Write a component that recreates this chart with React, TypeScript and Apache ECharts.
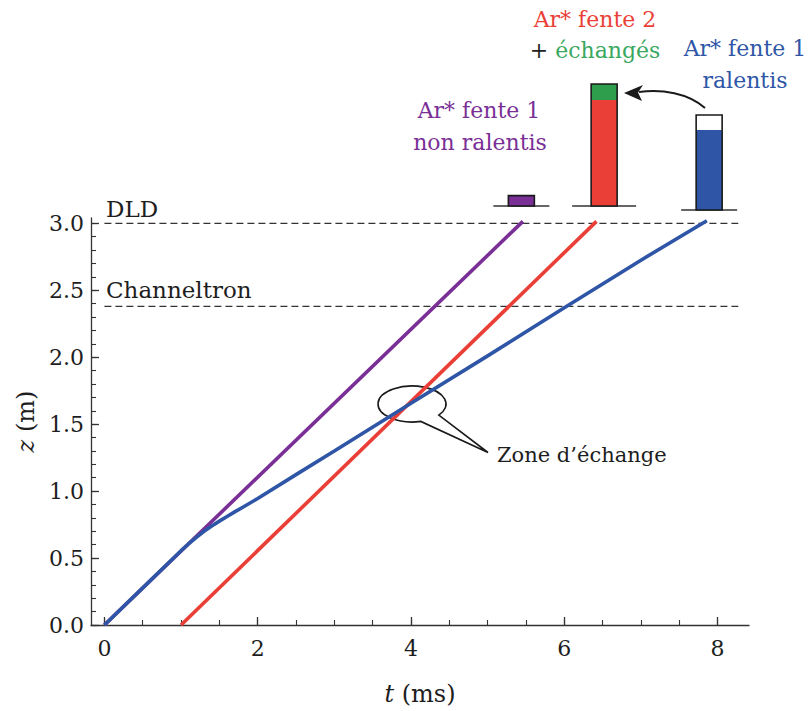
import React, { useEffect, useRef } from "react";
import * as echarts from "echarts";

// ---- data ----
const xMajorTicks = [0, 2, 4, 6, 8];
const xMinorTicks = [0, 0.5, 1, 1.5, 2, 2.5, 3, 3.5, 4, 4.5, 5, 5.5, 6, 6.5, 7, 7.5, 8];
const yMajorTicks = [0, 0.5, 1, 1.5, 2, 2.5, 3];
const yMinorTicks = [
  0, 0.1, 0.2, 0.3, 0.4, 0.5, 0.6, 0.7, 0.8, 0.9, 1, 1.1, 1.2, 1.3, 1.4, 1.5,
  1.6, 1.7, 1.8, 1.9, 2, 2.1, 2.2, 2.3, 2.4, 2.5, 2.6, 2.7, 2.8, 2.9, 3,
];

const purpleT = [0, 5.46];
const purpleZ = [0, 3.015];
const redT = [1.0, 6.42];
const redZ = [0, 3.015];
const blueT = [0, 0.5, 1.0, 1.1, 1.2, 1.3, 1.4, 1.5, 1.6, 1.7, 1.8, 2.0, 2.5, 3.0, 4.0, 5.0, 6.0, 7.0, 7.86];
const blueZ = [0, 0.277, 0.555, 0.607, 0.655, 0.7, 0.74, 0.776, 0.81, 0.845, 0.878, 0.945, 1.123, 1.3, 1.656, 2.01, 2.37, 2.725, 3.02];

const dldT = [0, 8.27];
const dldZ = [3.0, 3.0];
const chanT = [0, 8.27];
const chanZ = [2.38, 2.38];

// detector histogram (arbitrary units)
const barT = [5.44, 6.52, 7.89];
const barBase = [2, 2, 0];
const barLevel = [7.2, 55, 40];
const barTop = [7.2, 63, 47.5];

// ---- styles ----
const FONT = "DejaVu Serif";
const C_PURPLE = "#7a2f96";
const C_RED = "#ea3f37";
const C_BLUE = "#2f56a6";
const C_GREEN = "#2f9e4c";
const C_TEXT = "#1e1e1e";
const barFill = [C_PURPLE, C_RED, C_BLUE];
const barExtraFill = [C_PURPLE, C_GREEN, "#ffffff"];
const barFootHalf = [28, 32, 28];

const pairs = (a: number[], b: number[]) => a.map((v, i) => [v, b[i]]);

let registered = false;
function registerShapes() {
  if (registered) return;
  registered = true;
  const d = "M 438.8 415.1 A 34 18 0 1 0 420.8 421.4 L 488 452.5 Z";
  echarts.graphic.registerShape("callout", echarts.graphic.extendPath(d, {}) as any);
}

export default function App() {
  const ref = useRef<HTMLDivElement>(null);
  useEffect(() => {
    if (!ref.current) return;
    registerShapes();
    const chart = echarts.init(ref.current, undefined, { renderer: "svg" });
    const axisLabelStyle = { fontFamily: FONT, fontSize: 22, color: C_TEXT };
    const XMIN = -0.175;
    const XMAX = 8.41;
    const YMAX = 3.04;
    const f = (s: number) => `${s}px '${FONT}'`;
    const option: any = {
      animation: false,
      backgroundColor: "#ffffff",
      grid: [
        { left: 91, right: 60, top: 218, bottom: 86 },
        { left: 91, right: 60, top: 0, height: 210 },
      ],
      xAxis: [
        {
          type: "value",
          gridIndex: 0,
          position: "bottom",
          min: XMIN,
          max: XMAX,
          name: "{i|t} (ms)",
          nameLocation: "middle",
          nameGap: 57,
          nameTextStyle: {
            fontFamily: FONT,
            fontSize: 24,
            color: C_TEXT,
            rich: { i: { fontFamily: FONT, fontSize: 24, fontStyle: "italic", color: C_TEXT } },
          },
          axisLine: { onZero: false, lineStyle: { color: "#333", width: 1.3 } },
          axisTick: { inside: true, length: 8, customValues: xMajorTicks, lineStyle: { color: "#333", width: 1.3 } },
          axisLabel: { ...axisLabelStyle, margin: 12, customValues: xMajorTicks, formatter: (v: number) => String(v) },
          splitLine: { show: false },
        },
        {
          type: "value",
          gridIndex: 0,
          position: "bottom",
          min: XMIN,
          max: XMAX,
          axisLine: { show: false, onZero: false },
          axisTick: { inside: true, length: 5, customValues: xMinorTicks, lineStyle: { color: "#333", width: 1.1 } },
          axisLabel: { show: false },
          splitLine: { show: false },
        },
        {
          type: "value",
          gridIndex: 1,
          min: XMIN,
          max: XMAX,
          show: false,
        },
      ],
      yAxis: [
        {
          type: "value",
          gridIndex: 0,
          position: "left",
          min: 0,
          max: YMAX,
          name: "{i|z} (m)",
          nameLocation: "middle",
          nameGap: 53,
          nameRotate: 90,
          nameTextStyle: {
            fontFamily: FONT,
            fontSize: 24,
            color: C_TEXT,
            rich: { i: { fontFamily: FONT, fontSize: 24, fontStyle: "italic", color: C_TEXT } },
          },
          axisLine: { show: true, onZero: false, lineStyle: { color: "#333", width: 1.3 } },
          axisTick: { show: true, inside: true, length: 8, customValues: yMajorTicks, lineStyle: { color: "#333", width: 1.3 } },
          axisLabel: { ...axisLabelStyle, margin: 7, customValues: yMajorTicks, formatter: (v: number) => v.toFixed(1) },
          splitLine: { show: false },
        },
        {
          type: "value",
          gridIndex: 0,
          position: "left",
          min: 0,
          max: YMAX,
          axisLine: { show: false, onZero: false },
          axisTick: { show: true, inside: true, length: 5, customValues: yMinorTicks, lineStyle: { color: "#333", width: 1.1 } },
          axisLabel: { show: false },
          splitLine: { show: false },
        },
        {
          type: "value",
          gridIndex: 1,
          min: 0,
          max: 105,
          show: false,
        },
      ],
      series: [
        {
          type: "line",
          name: "DLD",
          xAxisIndex: 0,
          yAxisIndex: 0,
          data: pairs(dldT, dldZ),
          showSymbol: false,
          lineStyle: { color: "#333", width: 1.3, type: [7, 4] },
          silent: true,
          z: 1,
        },
        {
          type: "line",
          name: "Channeltron",
          xAxisIndex: 0,
          yAxisIndex: 0,
          data: pairs(chanT, chanZ),
          showSymbol: false,
          lineStyle: { color: "#333", width: 1.3, type: [7, 4] },
          silent: true,
          z: 1,
        },
        {
          type: "line",
          name: "purple",
          xAxisIndex: 0,
          yAxisIndex: 0,
          data: pairs(purpleT, purpleZ),
          showSymbol: false,
          lineStyle: { color: C_PURPLE, width: 3.6 },
          z: 2,
        },
        {
          type: "line",
          name: "red",
          xAxisIndex: 0,
          yAxisIndex: 0,
          data: pairs(redT, redZ),
          showSymbol: false,
          lineStyle: { color: C_RED, width: 3.6 },
          z: 3,
        },
        {
          type: "line",
          name: "blue",
          xAxisIndex: 0,
          yAxisIndex: 0,
          data: pairs(blueT, blueZ),
          showSymbol: false,
          smooth: false,
          lineStyle: { color: C_BLUE, width: 3.6, join: "round" },
          z: 4,
        },
        {
          type: "custom",
          name: "detecteur",
          xAxisIndex: 2,
          yAxisIndex: 2,
          data: barT.map((t, i) => [t, barBase[i], barLevel[i], barTop[i]]),
          encode: { x: 0, y: [1, 2, 3] },
          renderItem: (params: any, api: any) => {
            const i = params.dataIndex;
            const t = api.value(0);
            const b = api.value(1);
            const m = api.value(2);
            const tp = api.value(3);
            const pb = api.coord([t, b]);
            const pm = api.coord([t, m]);
            const pt = api.coord([t, tp]);
            const w = 26;
            const x = pb[0] - w / 2;
            const children: any[] = [
              {
                type: "line",
                shape: { x1: pb[0] - barFootHalf[i], y1: pb[1], x2: pb[0] + barFootHalf[i], y2: pb[1] },
                style: { stroke: "#333", lineWidth: 1.3 },
              },
              { type: "rect", shape: { x, y: pm[1], width: w, height: pb[1] - pm[1] }, style: { fill: barFill[i] } },
            ];
            if (tp > m) {
              children.push({
                type: "rect",
                shape: { x, y: pt[1], width: w, height: pm[1] - pt[1] },
                style: { fill: barExtraFill[i] },
              });
            }
            children.push({
              type: "rect",
              shape: { x, y: pt[1], width: w, height: pb[1] - pt[1] },
              style: { fill: "none", stroke: "#1a1a1a", lineWidth: 1.6 },
            });
            return { type: "group", children };
          },
        },
      ],
      graphic: [
        { type: "text", x: 106, y: 209, style: { text: "DLD", font: f(23), fill: C_TEXT, align: "left", verticalAlign: "middle" } },
        { type: "text", x: 106, y: 290, style: { text: "Channeltron", font: f(23), fill: C_TEXT, align: "left", verticalAlign: "middle" } },
        { type: "text", x: 497, y: 455, style: { text: "Zone d’échange", font: f(21), fill: C_TEXT, align: "left", verticalAlign: "middle" } },
        { type: "text", x: 595, y: 19, style: { text: "Ar* fente 2", font: f(22), fill: C_RED, align: "center", verticalAlign: "middle" } },
        {
          type: "text",
          x: 595,
          y: 50,
          style: {
            text: "{a|+} {b|échangés}",
            font: f(22),
            align: "center",
            verticalAlign: "middle",
            rich: {
              a: { fill: C_TEXT, font: f(22) },
              b: { fill: "#3aa85e", font: f(22) },
            },
          },
        },
        { type: "text", x: 745, y: 48, style: { text: "Ar* fente 1", font: f(22), fill: C_BLUE, align: "center", verticalAlign: "middle" } },
        { type: "text", x: 745, y: 80, style: { text: "ralentis", font: f(22), fill: C_BLUE, align: "center", verticalAlign: "middle" } },
        { type: "text", x: 479, y: 110, style: { text: "Ar* fente 1", font: f(22), fill: C_PURPLE, align: "center", verticalAlign: "middle" } },
        { type: "text", x: 480, y: 142, style: { text: "non ralentis", font: f(22), fill: C_PURPLE, align: "center", verticalAlign: "middle" } },
        {
          type: "bezierCurve",
          shape: { x1: 705, y1: 108, cpx1: 688, cpy1: 93, cpx2: 662, cpy2: 89, x2: 639, y2: 92 },
          style: { stroke: "#1a1a1a", lineWidth: 2, fill: "none" },
        },
        {
          type: "polygon",
          shape: { points: [[624, 93], [643, 85], [638, 92.5], [642, 101]] },
          style: { fill: "#1a1a1a" },
        },
        { type: "callout", x: 0, y: 0, style: { fill: "none", stroke: "#1a1a1a", lineWidth: 1.6 } },
      ],
    };
    chart.setOption(option);
    return () => chart.dispose();
  }, []);
  return <div ref={ref} style={{ width: 809, height: 711, position: "absolute", left: 0, top: 0 }} />;
}
